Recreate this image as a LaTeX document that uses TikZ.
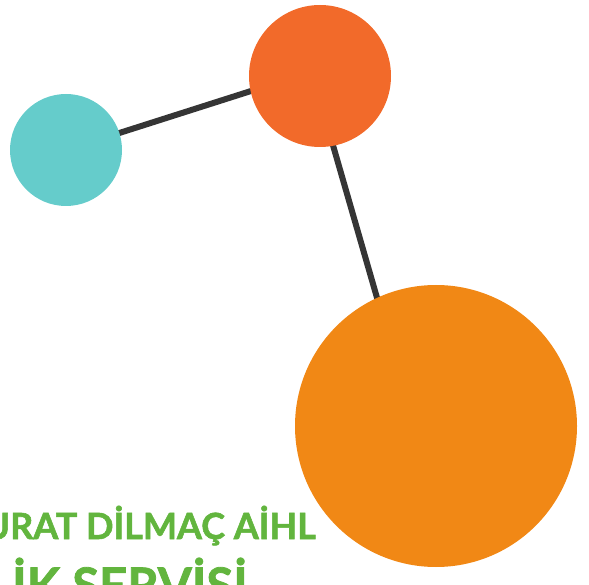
\documentclass[tikz,border=0pt]{standalone}
\usepackage{fontspec}
\setmainfont{Lato}
\newfontfamily\heavy{Lato}[BoldFeatures={FakeBold=1.6}]
\usetikzlibrary{backgrounds}
\definecolor{cteal}{HTML}{65CCCB}
\definecolor{cred}{HTML}{F26A2A}
\definecolor{corange}{HTML}{F18815}
\definecolor{cgreen}{HTML}{62B53E}
\definecolor{cline}{HTML}{353535}
\tikzset{
  ball/.style={circle, fill=#1, draw=none, inner sep=0pt},
  link/.style={draw=cline, line width=6pt},
  title/.style={text=cgreen, inner sep=0pt}
}
\begin{document}
\begin{tikzpicture}[x=1pt,y=-1pt]
\useasboundingbox (0,0) rectangle (589,585);
\clip (0,0) rectangle (589,585);
\node[ball=cteal, minimum size=112pt] (teal) at (66,150) {};
\node[ball=cred, minimum size=142pt] (red) at (320,76) {};
\node[ball=corange, minimum size=282pt] (big) at (436,426) {};
\coordinate (r1) at (320,69);
\coordinate (r2) at (313,76);
\coordinate (b1) at (414,426);
\begin{scope}[on background layer]
\draw[link] (teal.center) -- (r1);
\draw[link] (r2) -- (b1);
\end{scope}
\node[title, font=\heavy\bfseries\fontsize{36}{40}\selectfont, anchor=base east] (t1) at (316,539) {URAT DİLMAÇ AİHL};
\node[title, font=\heavy\bfseries\fontsize{49}{56}\selectfont, anchor=base west] (t2) at (12,603) {İK SERVİSİ};
\end{tikzpicture}
\end{document}
